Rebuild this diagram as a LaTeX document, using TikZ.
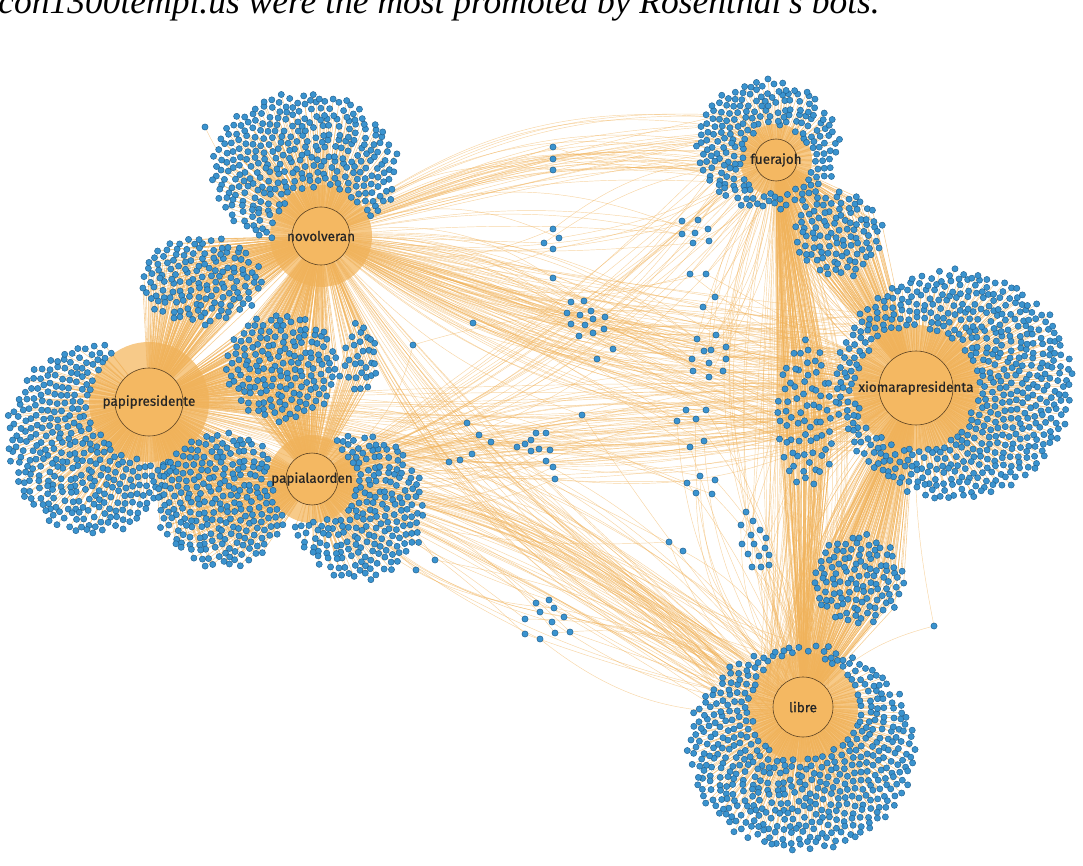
\documentclass[tikz,border=0pt]{standalone}
\usepackage{fontspec}
\setmainfont{Fira Sans}
\newfontfamily\hubfont[FakeBold=0.7]{Fira Sans}
\newfontfamily\capfont{Liberation Serif}
\usetikzlibrary{positioning}
\definecolor{hubfill}{HTML}{F4B862}
\definecolor{hubline}{HTML}{5A4020}
\definecolor{linkcol}{HTML}{F0B25A}
\definecolor{userfill}{HTML}{3A93CF}
\definecolor{userline}{HTML}{21608E}
\pgfdeclarelayer{fg}
\pgfsetlayers{main,fg}
\tikzset{
  hub/.style={circle,draw=hubline,fill=hubfill,line width=0.6pt,inner sep=0pt},
  hubtext/.style={font=\hubfont\fontsize{13.5}{15}\selectfont,text=black!85,inner sep=0pt},
  halo/.style={fill=hubfill,fill opacity=0.75},
  user/.style={draw=userline,fill=userfill,line width=0.45pt},
  link/.style={draw=linkcol,draw opacity=0.55,line width=0.45pt},
  tie/.style={draw=linkcol,draw opacity=0.65,line width=0.55pt},
}
\newif\iftiepass
% round crowd of accounts at (#1,#2), radii #3/#4, #5 of them, tied to hubs #6,
% kept clear of (#7,#8) by #9
\newcommand\crowd[9]{%
  \foreach \k in {1,...,#5}{%
    \pgfmathsetmacro\rr{sqrt((\k-0.5)/#5)}%
    \pgfmathsetmacro\ff{\k*0.381966}%
    \pgfmathsetmacro\aa{360*(\ff-floor(\ff))}%
    \pgfmathsetmacro\px{#1+#3*\rr*cos(\aa)+1.7*sin(\k*11.3)}%
    \pgfmathsetmacro\py{#2+#4*\rr*sin(\aa)+1.7*cos(\k*17.9)}%
    \pgfmathsetmacro\dd{veclen(\px-#7,\py-#8)}%
    \ifdim\dd pt>#9pt
      \coordinate (u) at (\px,\py);
      \iftiepass
        \foreach \h in {#6} \draw[tie] (\h) -- (u);
      \else
        \path[user] (u) circle (3.1pt);
      \fi
    \fi
  }}
% loose accounts between the crowds
\newcommand\strays[2]{%
  \foreach \mx/\my in {#2}{%
    \coordinate (m) at (\mx,\my);
    \iftiepass
      \foreach \h in {#1}{\pgfmathsetmacro\bb{22*rand}\draw[link] (\h) to[bend left=\bb] (m);}
    \else
      \path[user] (m) circle (3.1pt);
    \fi
  }}
% long ties from a hub into a far crowd
\newcommand\sweep[6]{%
  \foreach \j in {1,...,#5}{%
    \pgfmathsetmacro\qx{#2+#4*rand}%
    \pgfmathsetmacro\qy{#3+#4*rand}%
    \pgfmathsetmacro\bb{#6+12*rand}%
    \coordinate (q) at (\qx,\qy);
    \draw[link] (#1) to[bend left=\bb] (q);
  }}
\newcommand\everyone{%
  \crowd{304}{170}{93}{78}{390}{novolveran}{321}{236}{48}
  \crowd{201}{280}{61}{44}{145}{novolveran,papipresidente}{0}{0}{0}
  \crowd{282}{367}{57}{54}{165}{novolveran,papipresidente,papialaorden}{0}{0}{0}
  \crowd{92}{440}{85}{95}{437}{papipresidente}{149}{402}{58}
  \crowd{222}{500}{66}{68}{245}{papipresidente,papialaorden}{312}{479}{40}
  \crowd{358}{507}{67}{73}{265}{papialaorden}{312}{479}{42}
  \crowd{362}{358}{17}{37}{30}{novolveran,papialaorden}{0}{0}{0}
  \crowd{767}{145}{72}{65}{270}{fuerajoh}{776}{160}{33}
  \crowd{838}{234}{44}{43}{102}{fuerajoh,xiomara}{0}{0}{0}
  \crowd{954}{385}{119}{115}{740}{xiomara}{916}{388}{60}
  \crowd{806}{415}{30}{75}{72}{fuerajoh,xiomara,libre}{0}{0}{0}
  \crowd{858}{580}{46}{45}{112}{xiomara,libre}{0}{0}{0}
  \crowd{802}{748}{114}{103}{635}{libre}{803}{707}{52}
  \strays{novolveran,fuerajoh}{553/147,553/159,553/170,553/229,559/238,544/243,553/249,
    682/221,698/220,708/229,682/234,695/233,693/243,709/241}
  \strays{novolveran,xiomara}{553/278,571/302,584/301,567/313,580/315,591/311,593/319,605/317,
    571/324,585/325,604/329,579/336,593/333,613/349,597/359,473/323}
  \strays{fuerajoh,xiomara,novolveran}{690/274,706/274,715/297,703/307,697/339,716/335,704/351,
    711/350,726/347,692/359,709/363,726/359,693/371,723/371,709/377}
  \strays{libre,novolveran}{677/421,686/410,706/410,696/419,704/441,690/447,582/415}
  \strays{libre,papipresidente}{700/476,715/480,687/483,696/493,712/494,669/542,683/551}
  \strays{libre,fuerajoh}{746/512,753/521,741/525,760/530,751/535,766/538,742/544,754/544,
    765/548,748/554,759/556,769/555,752/567,761/567,769/565}
  \strays{papialaorden,xiomara}{517/447,525/444,531/440,536/433,546/433,531/451,539/449,550/450,
    546/461,553/467,555/479,449/462,460/460,472/454,467/423,479/435,491/442,413/345}
  \strays{papialaorden,libre}{536/603,549/600,540/612,554/608,525/619,552/622,564/617,525/634,
    555/633,570/632,540/639,435/560,416/570}
  \strays{libre,xiomara}{934/626}
  \strays{novolveran}{205/127}}

\begin{document}
\begin{tikzpicture}[x=1pt,y=-1pt]
  \useasboundingbox (0,0) rectangle (1083,866);
  \pgfmathsetseed{4242}
  \node[anchor=base east,inner sep=0pt,font=\capfont\itshape\fontsize{35.5}{40}\selectfont] (caption) at (880,14)
    {con1300tempi.us were the most promoted by Rosenthal's bots.};
  % hashtags
  \begin{pgfonlayer}{fg}
    \node[hub,minimum size=58pt,label={[hubtext]center:novolveran}] (novolveran) at (321,236) {};
    \node[hub,minimum size=68pt,label={[hubtext]center:papipresidente}] (papipresidente) at (149,402) {};
    \node[hub,minimum size=52pt,label={[hubtext]center:papialaorden}] (papialaorden) at (312,479) {};
    \node[hub,minimum size=42pt,label={[hubtext]center:fuerajoh}] (fuerajoh) at (776,160) {};
    \node[hub,minimum size=74pt,label={[hubtext]center:xiomarapresidenta}] (xiomara) at (916,388) {};
    \node[hub,minimum size=60pt,label={[hubtext]center:libre}] (libre) at (803,707) {};
  \end{pgfonlayer}
  % dense ties round each hashtag
  \path[halo] (novolveran) circle (51pt);
  \path[halo] (papipresidente) circle (60pt);
  \path[halo] (papialaorden) circle (44pt);
  \path[halo] (fuerajoh) circle (36pt);
  \path[halo] (xiomara) circle (63pt);
  \path[halo] (libre) circle (55pt);
  % long ties
  \sweep{novolveran}{740}{150}{35}{35}{12}
  \sweep{novolveran}{860}{350}{35}{45}{-10}
  \sweep{novolveran}{800}{420}{30}{30}{-6}
  \sweep{novolveran}{750}{670}{40}{25}{-14}
  \sweep{papipresidente}{750}{690}{40}{25}{16}
  \sweep{papipresidente}{860}{410}{35}{20}{-6}
  \sweep{papialaorden}{750}{690}{40}{40}{14}
  \sweep{papialaorden}{860}{420}{35}{30}{6}
  \sweep{papialaorden}{740}{170}{30}{20}{-10}
  \sweep{fuerajoh}{790}{680}{30}{60}{8}
  \sweep{xiomara}{800}{680}{30}{50}{-12}
  \sweep{fuerajoh}{870}{330}{25}{25}{-18}
  % ties of crowds and strays, then the accounts on top
  \tiepasstrue\everyone
  \tiepassfalse\everyone
\end{tikzpicture}
\end{document}
